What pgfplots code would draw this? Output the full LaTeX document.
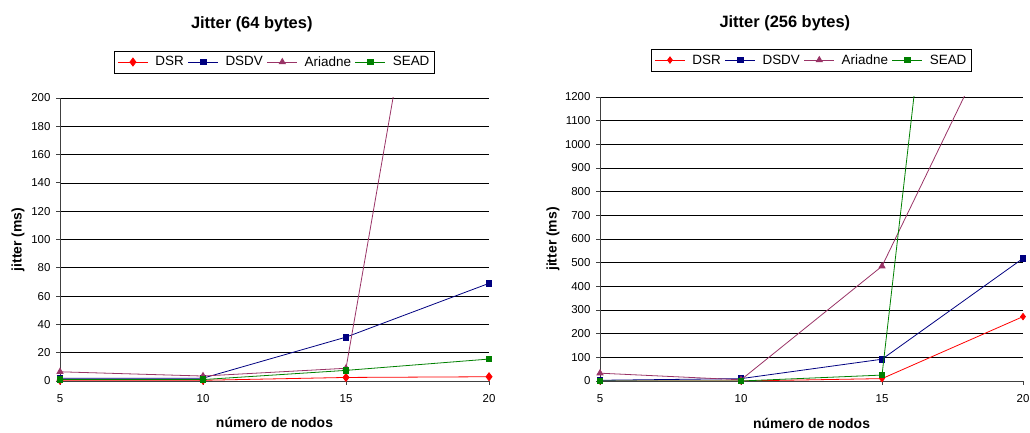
\documentclass[border=0pt]{standalone}
\usepackage{pgfplots}
\pgfplotsset{compat=1.18}
\usepackage{fontspec}
\setmainfont{Liberation Sans}
\definecolor{cDSR}{RGB}{255,0,0}
\definecolor{cDSDV}{RGB}{0,0,128}
\definecolor{cAri}{RGB}{153,51,102}
\definecolor{cSEAD}{RGB}{0,128,0}
\pgfplotsset{
  jit/.style={
    scale only axis,
    clip mode=individual,
    axis lines*=left,
    axis line style={black!75, line width=0.8pt},
    xmin=5, xmax=20, xtick={5,10,15,20},
    ymin=0,
    ymajorgrids,
    major grid style={black, line width=0.7pt},
    tick style={black!75, line width=0.8pt},
    tick align=outside,
    major tick length=4bp,
    /pgf/number format/assume math mode=true,
    /pgf/number format/1000 sep={},
    tick label style={font=\fontsize{11.5}{13}\selectfont},
    xticklabel style={yshift=-6bp},
    yticklabel style={xshift=-2bp},
    xlabel={\textbf{número de nodos}},
    ylabel={\textbf{jitter (ms)}},
    label style={font=\fontsize{14}{16}\selectfont},
    x label style={at={(rel axis cs:0.5,-0.148)}, anchor=center},
    legend columns=4,
    legend style={font=\fontsize{13.5}{15}\selectfont, draw=black, line width=0.8pt,
      inner xsep=3bp, inner ysep=3.5bp, anchor=center,
      /tikz/every even column/.append style={column sep=2bp},
      /tikz/every odd column/.append style={column sep=5bp}},
    legend image code/.code={\draw[mark repeat=2,mark phase=2] plot coordinates {(0bp,0bp) (15bp,0bp) (30bp,0bp)};},
    every axis plot/.append style={line width=0.8pt, mark options={solid}},
  },
}
\begin{document}
\begin{tikzpicture}[x=1bp,y=1bp]
\useasboundingbox (0,0) rectangle (1030,433);
\begin{axis}[jit,
  at={(60bp,52bp)}, anchor=south west,
  width=429bp, height=283bp,
  ymax=200, ytick={0,20,...,200},
  y label style={at={(rel axis cs:-0.098,0.5)}, anchor=center},
  legend style={at={(rel axis cs:0.5,1.127)}},
]
\node[font=\bfseries\fontsize{16.5}{18}\selectfont] at (rel axis cs:0.447,1.262) {Jitter (64 bytes)};
\addplot[color=cDSR, mark=diamond*, mark size=4bp] coordinates {(5,0.5) (10,0.5) (15,2.5) (20,3)};
\addplot[color=cDSDV, mark=square*, mark size=2.8bp] coordinates {(5,2) (10,2) (15,31) (20,69)};
\addplot[color=cAri, mark=triangle*, mark size=3.5bp] coordinates {(5,6.5) (10,3.5) (15,9) (20,590)};
\addplot[color=cSEAD, mark=square*, mark size=2.8bp] coordinates {(5,1) (10,1) (15,7.5) (20,15.5)};
\legend{DSR,DSDV,Ariadne,SEAD}
\end{axis}
\begin{axis}[jit,
  at={(600bp,52bp)}, anchor=south west,
  width=423bp, height=284bp,
  ymax=1200, ytick={0,100,...,1200},
  y label style={at={(rel axis cs:-0.111,0.5)}, anchor=center},
  legend style={at={(rel axis cs:0.5,1.13)}},
]
\node[font=\bfseries\fontsize{16.5}{18}\selectfont] at (rel axis cs:0.437,1.259) {Jitter (256 bytes)};
\addplot[color=cDSR, mark=diamond*, mark size=3.2bp] coordinates {(5,0) (10,0) (15,10) (20,272)};
\addplot[color=cDSDV, mark=square*, mark size=2.8bp] coordinates {(5,3) (10,10) (15,92) (20,518)};
\addplot[color=cAri, mark=triangle*, mark size=3.5bp] coordinates {(5,33) (10,5) (15,485) (20,1715)};
\addplot[color=cSEAD, mark=square*, mark size=2.8bp] coordinates {(5,0) (10,0) (15,25) (20,5225)};
\legend{DSR,DSDV,Ariadne,SEAD}
\end{axis}
\end{tikzpicture}
\end{document}
